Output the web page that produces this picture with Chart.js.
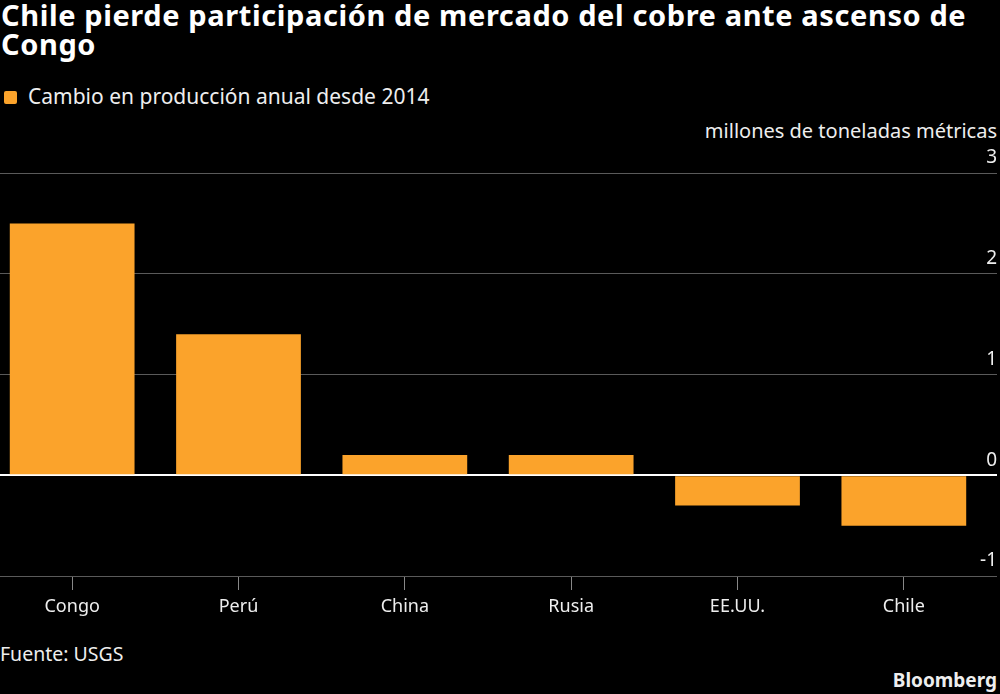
<!DOCTYPE html>
<html>
<head>
<meta charset="utf-8">
<script src="https://cdn.jsdelivr.net/npm/chart.js@4"></script>
<style>
  html, body { margin: 0; padding: 0; background: #000; overflow: hidden; }
  body { width: 1000px; height: 694px; position: relative; font-family: "Noto Sans", sans-serif; color: #fff; }
  #title { position: absolute; left: 1px; top: 0px; width: 995px; font-weight: bold; font-size: 29px; line-height: 29px; letter-spacing: 0.6px; }
  #legend { position: absolute; left: 4px; top: 82px; font-size: 21px; color: #eee; }
  #legend span.box { display: inline-block; width: 13px; height: 13px; background: #fba32b; margin-right: 11px; vertical-align: 0px; border-radius: 2px; }
  #units { position: absolute; right: 3px; top: 117px; font-size: 20px; color: #eee; }
  #source { position: absolute; left: 0; top: 640px; font-size: 19.5px; color: #eee; }
  #brand { position: absolute; right: 3px; top: 667px; font-size: 19px; font-weight: bold; color: #eee; }
  #wrap { position: absolute; left: -11px; top: 140px; width: 1011px; height: 486px; }
</style>
</head>
<body>
<div id="title">Chile pierde participación de mercado del cobre ante ascenso de Congo</div>
<div id="legend"><span class="box"></span>Cambio en producción anual desde 2014</div>
<div id="units">millones de toneladas métricas</div>
<div id="wrap"><canvas id="chart"></canvas></div>
<div id="source">Fuente: USGS</div>
<div id="brand">Bloomberg</div>
<script>
const countries = ['Congo', 'Perú', 'China', 'Rusia', 'EE.UU.', 'Chile'];
const change = [2.5, 1.4, 0.2, 0.2, -0.3, -0.5];
const yTicks = [-1, 0, 1, 2, 3];

const data = {
    labels: countries,
    datasets: [{
        label: 'Cambio en producción anual desde 2014',
        data: change,
        backgroundColor: '#fba32b',
        categoryPercentage: 1,
        barPercentage: 0.75,
    }]
};

const config = {
    type: 'bar',
    data: data,
    options: {
        responsive: true,
        maintainAspectRatio: false,
        animation: false,
        layout: { padding: { top: 33, right: 3, left: 0, bottom: 0 } },
        plugins: {
            legend: { display: false },
            tooltip: { enabled: false },
        },
        scales: {
            x: {
                offset: true,
                grid: {
                    offset: false,
                    drawOnChartArea: false,
                    drawTicks: true,
                    tickLength: 14,
                    tickColor: '#888',
                },
                border: { display: false },
                ticks: {
                    color: '#eee',
                    font: { family: 'Noto Sans', size: 18 },
                    padding: 6,
                },
                afterFit: scale => { scale.height = 50; },
            },
            y: {
                position: 'right',
                min: -1,
                max: 3,
                afterBuildTicks: scale => { scale.ticks = yTicks.map(v => ({ value: v })); },
                grid: {
                    color: ctx => ctx.tick && ctx.tick.value === 0 ? '#fff' : '#5a5a5a',
                    lineWidth: ctx => ctx.tick && ctx.tick.value === 0 ? 2 : 1,
                    drawTicks: true,
                    tickLength: 10,
                },
                border: { display: false },
                ticks: {
                    color: '#eee',
                    mirror: true,
                    crossAlign: 'near',
                    labelOffset: -15,
                    padding: 10,
                    font: { family: 'Noto Sans', size: 19 },
                    callback: value => String(value),
                },
                afterFit: scale => { scale.width = 10; },
            }
        }
    }
};

new Chart(document.getElementById('chart'), config);
</script>
</body>
</html>
